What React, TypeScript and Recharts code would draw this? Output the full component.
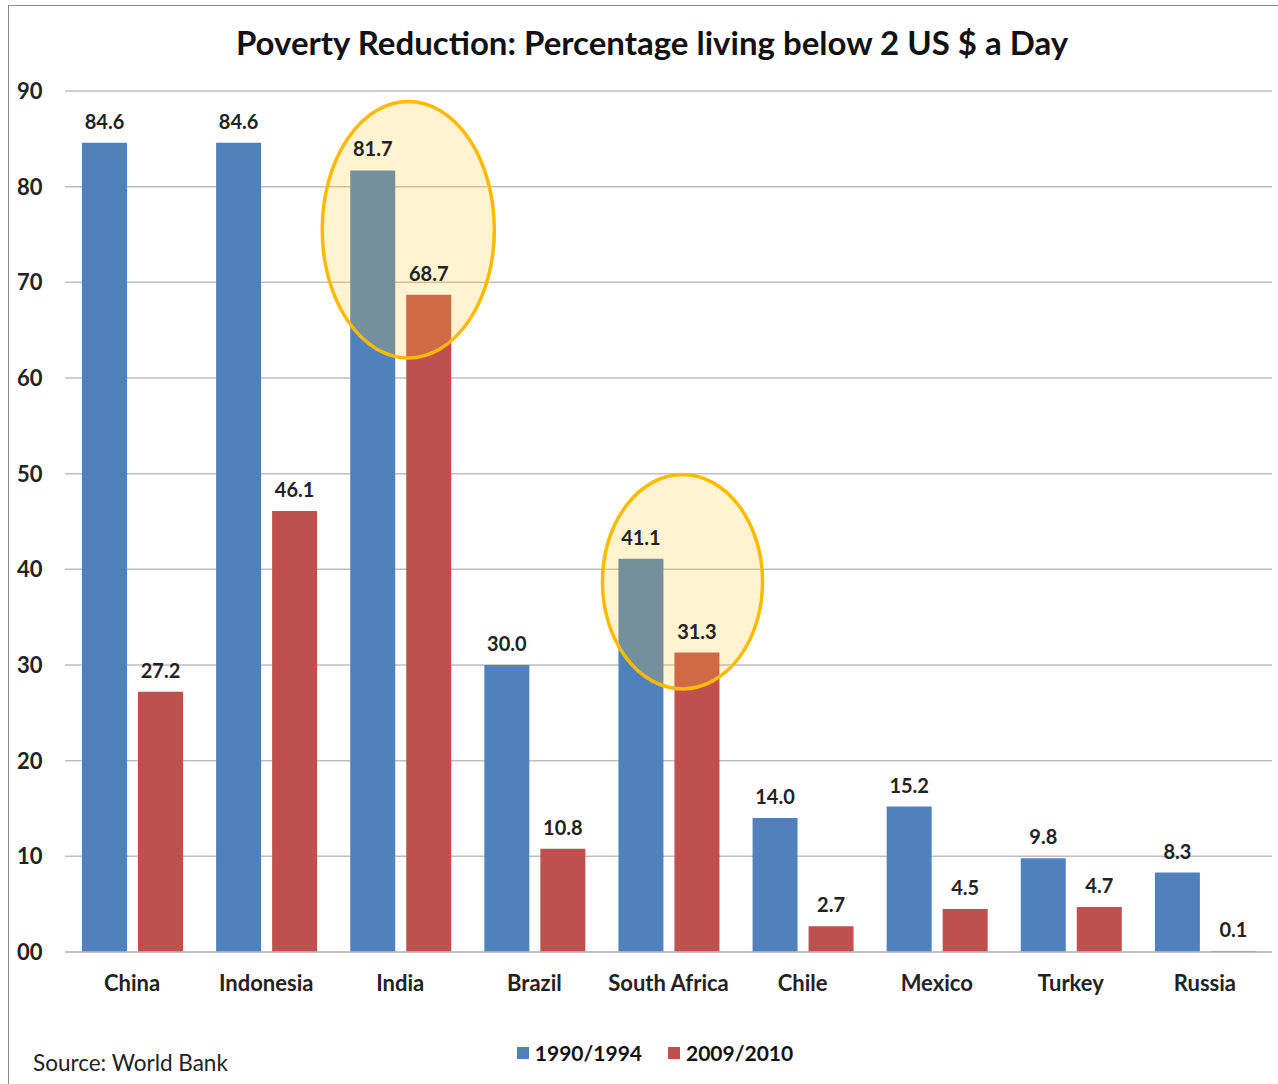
import {
  BarChart,
  Bar,
  XAxis,
  YAxis,
  CartesianGrid,
  LabelList,
  Legend,
  ReferenceArea,
} from "recharts";

const countries = ["China", "Indonesia", "India", "Brazil", "South Africa", "Chile", "Mexico", "Turkey", "Russia"];
const early = [84.6, 84.6, 81.7, 30.0, 41.1, 14.0, 15.2, 9.8, 8.3];
const late = [27.2, 46.1, 68.7, 10.8, 31.3, 2.7, 4.5, 4.7, 0.1];
const yTicks = [0, 10, 20, 30, 40, 50, 60, 70, 80, 90];

// highlighted countries, with the value span the ellipse covers
const highlightCountries = ["India", "South Africa"];
const highlightTop = [88.9, 49.9];
const highlightBottom = [62.1, 27.5];

const data = countries.map((c, i) => ({ country: c, early: early[i], late: late[i] }));

const FONT = "Lato, 'Open Sans', sans-serif";
const BLUE = "#4F81BD";
const RED = "#C0504D";

// ellipse tweaks (pixels) for each highlight
const ellipseShift = [8, 14];
const ellipseExtra = [19, 13];

const makeEllipse = (i: number) => (props: any) => {
  const { x, y, width, height } = props;
  const cx = x + width / 2 + ellipseShift[i];
  const rx = width / 2 + ellipseExtra[i];
  return (
    <g>
      <ellipse cx={cx} cy={y + height / 2} rx={rx} ry={height / 2} fill="#FFC828" fillOpacity={0.22} />
      <ellipse cx={cx} cy={y + height / 2} rx={rx} ry={height / 2} fill="none" stroke="#FFBA00" strokeWidth={3.5} />
    </g>
  );
};

const YTick = (props: any) => {
  const { y, payload } = props;
  return (
    <text x={17} y={y} dy={8} textAnchor="start" fontFamily={FONT} fontWeight={700} fontSize={22} fill="#222">
      {payload.value === 0 ? "00" : payload.value}
    </text>
  );
};

const XTick = (props: any) => {
  const { x, y, payload } = props;
  return (
    <text x={x} y={y} dy={31} textAnchor="middle" fontFamily={FONT} fontWeight={700} fontSize={22} fill="#222">
      {payload.value}
    </text>
  );
};

const LegendContent = () => (
  <div style={{ display: "flex", justifyContent: "center", gap: 26, fontFamily: FONT, fontWeight: 700, fontSize: 21, color: "#111" }}>
    {[
      { name: "1990/1994", color: BLUE },
      { name: "2009/2010", color: RED },
    ].map((e) => (
      <div key={e.name} style={{ display: "flex", alignItems: "center", gap: 6 }}>
        <span style={{ width: 12, height: 12, background: e.color, display: "inline-block" }} />
        <span>{e.name}</span>
      </div>
    ))}
  </div>
);

const labelStyle = { fontFamily: FONT, fontWeight: 700, fontSize: 20, fill: "#222" };

export default function App() {
  return (
    <div
      style={{
        position: "absolute",
        left: 0,
        top: 0,
        width: 1278,
        height: 1084,
        background: "#fff",
        overflow: "hidden",
      }}
    >
      <div
        style={{
          position: "absolute",
          left: 8,
          top: 5,
          right: 0,
          bottom: 0,
          borderLeft: "1.5px solid #8a8a8a",
          borderTop: "1.5px solid #8a8a8a",
        }}
      />
      <div
        style={{
          position: "absolute",
          left: 0,
          width: 1304,
          top: 22,
          textAlign: "center",
          fontFamily: FONT,
          fontWeight: 700,
          fontSize: 33,
          color: "#111",
        }}
      >
        Poverty Reduction: Percentage living below 2 US $ a Day
      </div>
      <div
        style={{
          position: "absolute",
          left: 33,
          top: 1049,
          fontFamily: FONT,
          fontSize: 22.5,
          color: "#222",
        }}
      >
        Source: World Bank
      </div>
      <BarChart
        width={1278}
        height={1084}
        data={data}
        margin={{ top: 91, right: 6, left: 0, bottom: 57 }}
        barSize={45}
        barGap={11}
        style={{ position: "absolute", left: 0, top: 0 }}
      >
        <CartesianGrid vertical={false} stroke="#BFBFBF" strokeWidth={1.5} />
        <XAxis
          dataKey="country"
          tick={<XTick />}
          tickLine={false}
          axisLine={{ stroke: "#BFBFBF", strokeWidth: 1.5 }}
          height={50}
          interval={0}
        />
        <YAxis
          width={65}
          domain={[0, 90]}
          ticks={yTicks}
          tick={<YTick />}
          axisLine={false}
          tickLine={false}
          interval={0}
        />
        <Legend
          content={<LegendContent />}
          wrapperStyle={{ position: "absolute", top: 1040, left: 0, width: 1310 }}
        />
        <Bar dataKey="early" name="1990/1994" fill={BLUE} isAnimationActive={false}>
          <LabelList dataKey="early" position="top" offset={14} formatter={(v: any) => Number(v).toFixed(1)} style={labelStyle} />
        </Bar>
        <Bar dataKey="late" name="2009/2010" fill={RED} isAnimationActive={false}>
          <LabelList dataKey="late" position="top" offset={14} formatter={(v: any) => Number(v).toFixed(1)} style={labelStyle} />
        </Bar>
        {highlightCountries.map((c, i) => (
          <ReferenceArea
            key={c}
            x1={c}
            x2={c}
            y1={highlightBottom[i]}
            y2={highlightTop[i]}
            shape={makeEllipse(i)}
            zIndex={500}
            ifOverflow="visible"
          />
        ))}
      </BarChart>
    </div>
  );
}
